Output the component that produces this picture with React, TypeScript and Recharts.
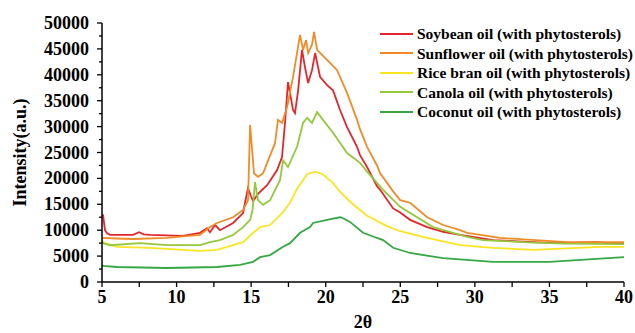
import { LineChart, Line, XAxis, YAxis, Legend, Label } from 'recharts';

// 2θ positions and intensities, one pair of arrays per oil
const soybeanTheta = [5.0, 5.07, 5.2, 5.34, 5.54, 7.08, 7.48, 7.8, 8.22, 10.43, 11.57, 12.04, 12.24, 12.58, 12.91, 13.79, 14.46, 14.6, 14.79, 15.0, 15.13, 15.46, 16.07, 16.74, 17.07, 17.27, 17.47, 17.81, 17.94, 18.15, 18.41, 18.61, 18.82, 19.08, 19.29, 19.62, 20.09, 20.49, 20.96, 21.43, 22.1, 22.3, 22.77, 23.44, 23.65, 24.52, 24.99, 25.66, 26.8, 27.87, 29.01, 31.22, 33.9, 35.52, 38.2, 38.87, 40];
const soybeanI = [13000, 12900, 10000, 9400, 9100, 9100, 9600, 9200, 9100, 8900, 9500, 10400, 9600, 11000, 10000, 11400, 13300, 15500, 18100, 16500, 15600, 17000, 18700, 21600, 24100, 30700, 38600, 33200, 32600, 37000, 44800, 41500, 38400, 40900, 44200, 39600, 38000, 37000, 33200, 29900, 26100, 24500, 22200, 18500, 17800, 14200, 13400, 12000, 10600, 9700, 9100, 8100, 7700, 7500, 7700, 7500, 7500];

const sunflowerTheta = [5.0, 6.0, 7.08, 9.36, 11.57, 12.24, 12.71, 13.79, 14.46, 14.79, 14.93, 15.19, 15.46, 15.8, 16.07, 16.6, 16.8, 17.07, 17.41, 17.81, 18.28, 18.48, 18.68, 18.82, 19.08, 19.22, 19.42, 20.09, 20.76, 21.43, 22.1, 22.3, 22.77, 23.44, 23.65, 24.52, 24.99, 25.66, 26.8, 27.87, 29.01, 29.48, 31.69, 36.19, 40];
const sunflowerI = [8500, 8400, 8300, 8500, 9100, 10600, 11400, 12500, 13900, 15800, 30300, 21000, 20300, 21000, 23000, 26800, 31300, 30700, 33800, 39600, 47700, 44800, 46700, 44200, 45800, 48300, 44800, 42900, 40900, 36500, 31300, 29500, 26100, 22500, 21000, 17500, 15800, 15300, 12500, 11000, 10000, 9500, 8500, 7700, 7700];

const riceBranTheta = [5.0, 6.0, 8.22, 11.57, 12.71, 13.79, 14.46, 15.13, 15.6, 16.27, 17.14, 17.61, 18.08, 18.75, 19.3, 19.8, 20.49, 21.0, 21.63, 22.77, 24.11, 24.99, 26.8, 29.01, 31.22, 33.91, 38.4, 40];
const riceBranI = [7700, 6800, 6600, 6000, 6200, 7100, 7700, 9500, 10600, 11000, 13500, 15300, 18000, 20800, 21300, 20800, 19100, 17300, 15500, 12800, 10800, 9800, 8500, 7100, 6600, 6200, 6800, 6800];

const canolaTheta = [5.0, 5.07, 5.54, 7.55, 9.36, 11.57, 12.24, 12.91, 13.79, 14.46, 14.93, 15.1, 15.26, 15.46, 15.8, 16.27, 16.94, 17.14, 17.47, 18.08, 18.48, 18.75, 19.08, 19.42, 19.82, 20.49, 21.43, 22.3, 22.77, 23.85, 24.99, 27.2, 29.48, 30.55, 33.9, 36, 40];
const canolaI = [8100, 7500, 7100, 7500, 7100, 7100, 7700, 8100, 9100, 10600, 12000, 14000, 19300, 15800, 14900, 15800, 19700, 23500, 22200, 26100, 30700, 31700, 30700, 32800, 31300, 28800, 24900, 23000, 21300, 17800, 14500, 10600, 8700, 8100, 7600, 7400, 7300];

const coconutTheta = [5.0, 5.07, 6.0, 9.36, 12.71, 14.26, 15.13, 15.6, 16.27, 17.14, 17.61, 18.28, 18.95, 19.15, 20.09, 20.96, 21.1, 21.63, 22.5, 23.44, 23.85, 24.52, 25.66, 27.87, 31.22, 35, 40];
const coconutI = [3300, 3100, 2900, 2700, 2900, 3300, 3900, 4800, 5200, 6800, 7500, 9500, 10600, 11400, 12000, 12500, 12400, 11600, 9500, 8500, 8100, 6600, 5600, 4600, 3900, 3900, 4800];

const xTicks = [5, 7.5, 10, 12.5, 15, 17.5, 20, 22.5, 25, 27.5, 30, 32.5, 35, 37.5, 40];
const yTicks = [0, 2500, 5000, 7500, 10000, 12500, 15000, 17500, 20000, 22500, 25000, 27500, 30000, 32500, 35000, 37500, 40000, 42500, 45000, 47500, 50000];

const zip = (t: number[], v: number[]) => t.map((x, i) => ({ x, y: v[i] }));

const series = [
  { name: 'Soybean oil (with phytosterols)', color: '#e3262b', data: zip(soybeanTheta, soybeanI) },
  { name: 'Sunflower oil (with phytosterols)', color: '#f08c28', data: zip(sunflowerTheta, sunflowerI) },
  { name: 'Rice bran oil (with phytosterols)', color: '#fbe520', data: zip(riceBranTheta, riceBranI) },
  { name: 'Canola oil (with phytosterols)', color: '#94c83d', data: zip(canolaTheta, canolaI) },
  { name: 'Coconut oil (with phytosterols)', color: '#36a843', data: zip(coconutTheta, coconutI) },
];

const font = '"Liberation Serif", "Times New Roman", serif';

function XTick(props: any) {
  const { x, y, payload } = props;
  const v = payload.value;
  const major = v % 5 === 0;
  return (
    <g>
      <line x1={x} y1={y} x2={x} y2={y + 5} stroke="#000" strokeWidth={1.3} />
      {major && (
        <text x={x} y={y + 21} textAnchor="middle" fontFamily={font} fontWeight="bold" fontSize={18} fill="#000">
          {v}
        </text>
      )}
    </g>
  );
}

function YTick(props: any) {
  const { x, y, payload } = props;
  const v = payload.value;
  const major = v % 5000 === 0;
  return (
    <g>
      <line x1={x - (major ? 5 : 3)} y1={y} x2={x} y2={y} stroke="#000" strokeWidth={1.3} />
      {major && (
        <text x={x - 13} y={y + 6} textAnchor="end" fontFamily={font} fontWeight="bold" fontSize={18} fill="#000">
          {v}
        </text>
      )}
    </g>
  );
}

function LegendBox() {
  return (
    <div style={{ fontFamily: font, fontWeight: 'bold', fontSize: 15.5, lineHeight: '19.5px' }}>
      {series.map((s) => (
        <div key={s.name} style={{ display: 'flex', alignItems: 'center', whiteSpace: 'nowrap' }}>
          <span style={{ display: 'inline-block', flexShrink: 0, width: 33, height: 2, background: s.color, marginRight: 4 }} />
          <span>{s.name}</span>
        </div>
      ))}
    </div>
  );
}

export default function App() {
  return (
    <div style={{ position: 'absolute', left: 0, top: 0, background: '#fff' }}>
      <LineChart width={635} height={333} margin={{ top: 23, right: 11, bottom: 0, left: 12 }}>
        <XAxis
          type="number"
          dataKey="x"
          domain={[5, 40]}
          ticks={xTicks}
          interval={0}
          tickSize={0}
          tickMargin={0}
          tick={<XTick />}
          axisLine={{ stroke: '#000', strokeWidth: 1.5 }}
          tickLine={false}
          height={51}
          allowDataOverflow
        >
          <Label
            value="2θ"
            position="insideBottom"
            offset={5}
            style={{ fontFamily: font, fontWeight: 'bold', fontSize: 18, fill: '#000' }}
          />
        </XAxis>
        <YAxis
          type="number"
          dataKey="y"
          domain={[0, 50000]}
          ticks={yTicks}
          interval={0}
          tickSize={0}
          tickMargin={0}
          tick={<YTick />}
          axisLine={{ stroke: '#000', strokeWidth: 1.5 }}
          tickLine={false}
          width={90}
          allowDataOverflow
        >
          <Label
            value="Intensity(a.u.)"
            angle={-90}
            position="insideLeft"
            offset={8}
            style={{ fontFamily: font, fontWeight: 'bold', fontSize: 18, fill: '#000', textAnchor: 'middle' }}
          />
        </YAxis>
        {series.map((s) => (
          <Line
            key={s.name}
            data={s.data}
            dataKey="y"
            name={s.name}
            type="linear"
            stroke={s.color}
            strokeWidth={1.8}
            dot={false}
            isAnimationActive={false}
          />
        ))}
        <Legend
          layout="vertical"
          align="center"
          verticalAlign="middle"
          content={<LegendBox />}
          wrapperStyle={{ top: 24, left: 380, width: 255 }}
        />
      </LineChart>
    </div>
  );
}
